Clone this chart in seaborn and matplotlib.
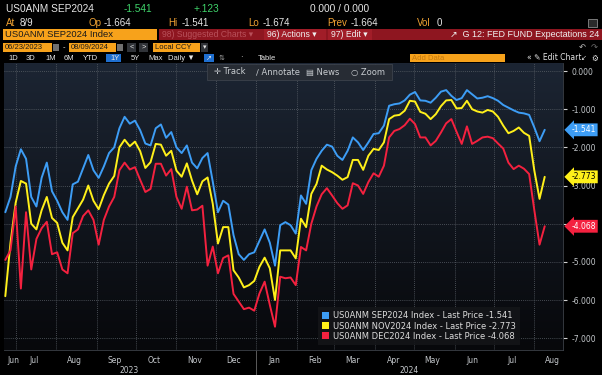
import numpy as np
import pandas as pd
import matplotlib
matplotlib.use('agg')
import matplotlib.pyplot as plt
import matplotlib.transforms as mtransforms
from matplotlib.patches import Rectangle, Patch
from matplotlib.ticker import FuncFormatter
import seaborn as sns

# Fed funds implied move (US0ANM) for three meeting contracts, 06/23/2023 - 08/09/2024
start_date, end_date = "2023-06-23", "2024-08-09"

sep2024 = [-3.70, -3.30, -2.50, -2.05, -2.30, -3.30, -3.55, -2.80, -2.40, -3.15,
           -3.40, -3.70, -3.90, -2.97, -2.90, -2.55, -2.20, -2.60, -2.80, -2.50,
           -2.15, -2.00, -1.50, -1.20, -1.38, -1.30, -1.55, -1.90, -1.95, -1.50,
           -1.40, -1.75, -1.60, -2.00, -2.15, -1.95, -2.40, -2.55, -2.28, -2.15,
           -2.90, -3.70, -3.40, -3.50, -4.30, -4.80, -4.95, -4.80, -4.75, -4.45,
           -4.15, -4.50, -5.10, -4.04, -3.96, -4.04, -4.26, -3.26, -3.48, -2.60,
           -2.30, -2.09, -1.93, -1.98, -2.22, -2.33, -2.09, -1.74, -1.87, -2.07,
           -1.87, -1.65, -1.63, -1.43, -0.91, -0.87, -0.85, -0.77, -0.62, -0.55,
           -0.77, -0.78, -0.83, -0.70, -0.54, -0.50, -0.65, -0.76, -0.71, -0.50,
           -0.61, -0.72, -0.70, -0.66, -0.71, -0.78, -0.89, -0.96, -1.03, -1.09,
           -1.11, -1.15, -1.48, -1.84, -1.541]

nov2024 = [-5.90, -4.50, -3.45, -2.88, -2.95, -4.00, -4.15, -3.65, -3.30, -3.85,
           -3.98, -4.50, -4.70, -3.83, -3.60, -3.37, -3.00, -3.40, -3.62, -3.25,
           -2.95, -2.75, -2.00, -1.80, -1.97, -1.85, -2.10, -2.54, -2.39, -1.91,
           -1.93, -2.22, -2.09, -2.61, -2.77, -2.42, -2.87, -3.23, -2.89, -2.79,
           -3.48, -4.52, -4.09, -4.09, -5.22, -5.41, -5.67, -5.61, -5.50, -5.13,
           -4.89, -5.17, -6.00, -4.70, -4.70, -4.70, -4.91, -3.87, -4.09, -3.22,
           -2.96, -2.48, -2.58, -2.65, -2.74, -2.85, -2.78, -2.33, -2.33, -2.59,
           -2.22, -2.04, -2.07, -1.87, -1.26, -1.17, -1.15, -1.04, -0.78, -0.80,
           -1.07, -1.12, -1.26, -1.13, -0.92, -0.77, -0.76, -0.98, -0.97, -0.78,
           -1.00, -1.06, -1.09, -1.02, -1.06, -1.20, -1.43, -1.63, -1.57, -1.48,
           -1.62, -1.70, -2.61, -3.35, -2.773]

dec2024 = [-4.95, -4.70, -3.55, -5.70, -3.70, -5.20, -4.40, -4.12, -3.95, -4.80,
           -4.75, -5.20, -5.30, -4.25, -4.15, -3.80, -3.65, -3.90, -4.55, -3.90,
           -3.55, -3.30, -2.60, -2.40, -2.58, -2.52, -2.85, -3.17, -3.09, -2.43,
           -2.43, -2.74, -2.57, -3.30, -3.61, -3.03, -3.65, -3.63, -3.53, -5.10,
           -4.60, -5.30, -4.90, -4.83, -5.84, -6.04, -6.24, -6.20, -6.28, -5.83,
           -5.52, -6.13, -6.70, -5.39, -5.43, -5.41, -5.61, -4.61, -4.70, -4.00,
           -3.55, -3.23, -3.07, -3.26, -3.46, -3.61, -3.52, -2.94, -3.00, -3.22,
           -2.91, -2.68, -2.77, -2.48, -1.74, -1.57, -1.52, -1.42, -1.25, -1.39,
           -1.74, -1.74, -1.95, -1.83, -1.61, -1.37, -1.26, -1.59, -1.91, -1.45,
           -1.91, -1.83, -1.74, -1.72, -1.76, -1.90, -2.03, -2.40, -2.57, -2.48,
           -2.56, -2.70, -3.65, -4.55, -4.068]

series_names = ["US0ANM SEP2024 Index", "US0ANM NOV2024 Index", "US0ANM DEC2024 Index"]
last_prices = [-1.541, -2.773, -4.068]
colors = ["#3d9df5", "#fff01a", "#f4213f"]
tag_text_colors = ["white", "black", "white"]

month_labels = ["Jun", "Jul", "Aug", "Sep", "Oct", "Nov", "Dec",
                "Jan", "Feb", "Mar", "Apr", "May", "Jun", "Jul", "Aug"]
year_labels = ["2023", "2024"]

n = len(sep2024)
dates = pd.date_range(start_date, end_date, periods=n)
df = pd.DataFrame({
    "date": np.tile(dates, 3),
    "value": sep2024 + nov2024 + dec2024,
    "series": np.repeat(series_names, n),
})

sns.set_style("dark")
plt.rcParams['font.family'] = ['Liberation Sans Narrow', 'DejaVu Sans']
HDR = ['Liberation Sans', 'DejaVu Sans']

W, H = 602, 375
fig = plt.figure(figsize=(W / 100, H / 100), dpi=100, facecolor="black")


def ftext(x, y, s, color="#e6e6e6", size=7, ha="left", z=6, family=HDR, **kw):
    fig.text(x / W, 1 - y / H, s, color=color, fontsize=size, ha=ha, va="center",
             zorder=z, family=family, **kw)


def frect(x0, y0, x1, y1, color, z=2, ec="none"):
    fig.add_artist(Rectangle((x0 / W, 1 - y1 / H), (x1 - x0) / W, (y1 - y0) / H,
                             transform=fig.transFigure, facecolor=color, edgecolor=ec,
                             linewidth=0.6, zorder=z))


# ---- chart ----
ax_left, ax_right, ax_top, ax_bot = 4, 563, 63, 350
ax = fig.add_axes([ax_left / W, 1 - ax_bot / H, (ax_right - ax_left) / W, (ax_bot - ax_top) / H])
ax.set_zorder(1)

grad = np.linspace(0, 1, 256).reshape(-1, 1)
top_c = np.array([28, 37, 51]) / 255
bot_c = np.array([7, 8, 11]) / 255
img = top_c * (1 - grad[..., None]) + bot_c * grad[..., None]
ax.imshow(img, extent=[0, 1, 0, 1], transform=ax.transAxes, aspect="auto", zorder=0)

sns.lineplot(data=df, x="date", y="value", hue="series", palette=dict(zip(series_names, colors)),
             linewidth=1.4, legend=False, ax=ax, zorder=3)

ax.set_xlim(pd.Timestamp("2023-06-22"), pd.Timestamp("2024-08-23"))
ax.set_ylim(-7.31, 0.21)
ax.set_xlabel("")
ax.set_ylabel("")

# month grid / labels
month_starts = pd.date_range("2023-07-01", "2024-08-01", freq="MS")
ax.set_xticks(month_starts)
ax.set_xticklabels([""] * len(month_starts))
mid_months = [pd.Timestamp("2023-06-29")] + list(month_starts + pd.Timedelta(days=14))
ax.set_xticks(mid_months, minor=True)
ax.set_xticklabels(month_labels, minor=True)
ax.tick_params(axis="x", which="minor", length=0, labelsize=5.5, labelcolor="#c4c8cc", pad=4)
ax.tick_params(axis="x", which="major", length=3, color="#8a8a8a", width=0.6)

# right axis; the -4.000 label sits under the DEC2024 price tag, as on the terminal
ax.yaxis.tick_right()
ax.set_yticks(np.arange(0, -8, -1))
ax.yaxis.set_major_formatter(FuncFormatter(lambda v, p: "" if abs(v + 4) < 1e-9 else f"{v:.3f}"))
ax.tick_params(axis="y", length=3, color="#d0d0d0", width=0.8, labelsize=5.5, labelcolor="#c4c8cc", pad=3)

ax.grid(True, color="#5a6068", linewidth=0.6, linestyle=(0, (1, 1.5)))
for side in ["left", "top"]:
    ax.spines[side].set_visible(False)
for side in ["right", "bottom"]:
    ax.spines[side].set_color("#3c4148")
    ax.spines[side].set_linewidth(0.6)

# year labels and separator
blend = mtransforms.blended_transform_factory(ax.transData, ax.transAxes)
jan1 = pd.Timestamp("2024-01-01")
ax.plot([jan1, jan1], [0, -0.09], transform=blend, color="#6a6a6a", lw=0.6, clip_on=False)
for lab, d in zip(year_labels, [pd.Timestamp("2023-09-26"), pd.Timestamp("2024-04-27")]):
    ax.text(d, -0.073, lab, transform=blend, ha="center", va="center", fontsize=5.5, color="#c4c8cc")

# last price tags on the right axis
tagtr = mtransforms.blended_transform_factory(ax.transAxes, ax.transData)
for v, c, tc in zip(last_prices, colors, tag_text_colors):
    ax.annotate(f"{v:.3f}", xy=(1.0, v), xycoords=tagtr, xytext=(6, 0), textcoords="offset points",
                ha="left", va="center", fontsize=5.5, color=tc, annotation_clip=False, zorder=6,
                bbox=dict(boxstyle="larrow,pad=0.25", fc=c, ec="none"))

# legend
handles = [Patch(facecolor=c, edgecolor="none") for c in colors]
labels = [f"{s} - Last Price {v:.3f}" for s, v in zip(series_names, last_prices)]
leg = ax.legend(handles, labels, loc="lower right", bbox_to_anchor=(0.93, 0.003), fontsize=6,
                handlelength=0.9, handleheight=0.9, handletextpad=0.4, labelspacing=0.15,
                borderpad=0.5, frameon=True, fancybox=False)
leg.get_frame().set_facecolor("#141518")
leg.get_frame().set_alpha(0.9)
leg.get_frame().set_edgecolor("none")
for t in leg.get_texts():
    t.set_color("#dcdcdc")

# ---- Bloomberg header ----
amber = "#f0a232"
ftext(6, 9, "US0ANM SEP2024", size=7.3)
ftext(124, 9, "-1.541", color="#3fd36a", size=7.3)
ftext(193, 9, "+.123", color="#3fd36a", size=7.3)
ftext(310, 9, "0.000 / 0.000", size=7.3)

for lx, lab, vx, val in [(6, "At", 20, "8/9"), (88, "Op", 104, "-1.664"), (168, "Hi", 182, "-1.541"),
                         (248, "Lo", 263, "-1.674"), (327, "Prev", 351, "-1.664"), (417, "Vol", 437, "0")]:
    ftext(lx, 23, lab, color=amber, size=7)
    ftext(vx, 23, val, size=7)
frect(588, 19, 597, 27, "#2a2a2a", ec="#8a8a8a")

frect(3, 29, 157, 40, "#f7a21b")
ftext(5, 34.5, "US0ANM SEP2024 Index", color="#1a1a1a", size=6.8)
frect(159, 29, 602, 40, "#8e1620")
frect(264, 29, 326, 40, "#a11d28")
frect(328, 29, 372, 40, "#a11d28")
ftext(162, 34.5, "98) Suggested Charts \u25be", color="#b8505a", size=6.2)
ftext(267, 34.5, "96) Actions \u25be", color="#f0f0f0", size=6.2)
ftext(331, 34.5, "97) Edit \u25be", color="#f0f0f0", size=6.2)
ftext(599, 34.5, "\u2197  G 12: FED FUND Expectations 24", color="#f0f0f0", size=6.5, ha="right")

frect(3, 43, 52, 52, "#f7a21b")
frect(53, 44, 59, 51, "#707070")
ftext(5, 47.5, "06/23/2023", color="#1a1a1a", size=5.5)
ftext(63, 47.5, "-", size=5.5)
frect(69, 43, 116, 52, "#f7a21b")
frect(117, 44, 123, 51, "#707070")
ftext(71, 47.5, "08/09/2024", color="#1a1a1a", size=5.5)
frect(127, 43, 136, 52, "#303338")
frect(139, 43, 148, 52, "#303338")
ftext(131.5, 47.5, "<", size=5.5, ha="center")
ftext(143.5, 47.5, ">", size=5.5, ha="center")
frect(153, 43, 200, 52, "#f7a21b")
ftext(155, 47.5, "Local CCY", color="#1a1a1a", size=5.5)
frect(201, 43, 208, 52, "#303338")
ftext(204.5, 47.5, "\u25be", size=5, ha="center", family=['DejaVu Sans'])
ftext(582, 47.5, "\u21b6", color="#c0c0c0", size=6, ha="center", family=['DejaVu Sans'])
ftext(594, 47.5, "\u21b7", color="#707070", size=6, ha="center", family=['DejaVu Sans'])

frect(106, 54, 121, 62, "#1f6fd0")
for x, lab in [(8, "1D"), (26, "3D"), (45, "1M"), (64, "6M"), (83, "YTD"), (110, "1Y"),
               (131, "5Y"), (148, "Max"), (168, "Daily \u25bc"), (258, "Table")]:
    ftext(x, 58, lab, size=5.5)
frect(204, 54, 214, 62, "#1f6fd0")
ftext(209, 58, "\u2197", size=5, ha="center", family=['DejaVu Sans'])
ftext(222, 58, "\u21c5", color="#a0a0a0", size=5, ha="center", family=['DejaVu Sans'])
ftext(240, 58, "\u00b7", size=5.5)
frect(410, 54, 505, 62, "#f7a21b")
ftext(412, 58, "Add Data", color="#c47a10", size=5.5)
ftext(527, 58, "\u00ab \u270e Edit Chart", size=5.5, family=['Liberation Sans Narrow', 'DejaVu Sans'])
ftext(584, 58, "\u2199", size=5, ha="center", family=['DejaVu Sans'])
ftext(595, 58, "\u2699", size=5.5, ha="center", family=['DejaVu Sans'])

# floating chart toolbar
frect(207, 64, 392, 80, "#272c34", z=7, ec="#3c424c")
for x, lab in [(214, "\u271b Track"), (256, "\u2215 Annotate"), (306, "\u25a4 News"), (351, "\u25cb Zoom")]:
    ftext(x, 72, lab, color="#c8ccd0", size=6, z=8, family=['DejaVu Sans'])

fig.savefig("out.png", dpi=100, facecolor="black")
